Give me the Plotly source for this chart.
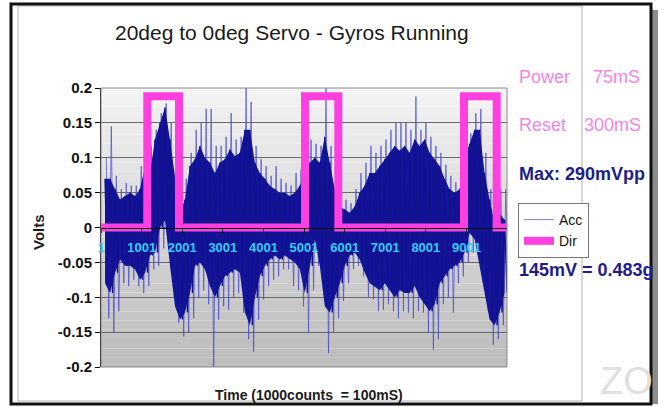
import plotly.graph_objects as go

W, H = 664, 407
L, R, T, B = 101, 157, 88, 40
PW, PH = W - L - R, H - T - B


def px(x):
    return (x - L) / PW


def py(y):
    return (H - B - y) / PH


# ---------------- data ----------------
# Acc envelope readings, one every 123 samples starting at sample 100
acc_t0 = 100
acc_dt = 123
acc_core_hi = [0.07, 0.07, 0.055, 0.04, 0.045, 0.05, 0.045, 0.055, 0.088, 0.078,
               0.126, 0.15, 0.172, 0.126, 0.07, 0.02, 0.04, 0.088, 0.098, 0.117,
               0.10, 0.093, 0.078, 0.093, 0.098, 0.112, 0.102, 0.107, 0.14, 0.14,
               0.093, 0.078, 0.07, 0.06, 0.055, 0.05, 0.05, 0.045, 0.05, 0.06,
               0.078, 0.093, 0.10, 0.093, 0.13, 0.093, 0.055, 0.03, 0.026, 0.021,
               0.03, 0.05, 0.06, 0.078, 0.078, 0.088, 0.098, 0.107, 0.117, 0.11,
               0.117, 0.107, 0.126, 0.117, 0.126, 0.107, 0.098, 0.088, 0.07, 0.055,
               0.05, 0.055, 0.10, 0.12, 0.14, 0.14, 0.078, 0.04, 0.007, 0.02, 0.011]
acc_core_lo = [-0.08, -0.094, -0.065, -0.046, -0.055, -0.055, -0.06, -0.075, -0.065, -0.04,
               -0.036, 0.0, 0.01, -0.055, -0.113, -0.132, -0.122, -0.094, -0.055, -0.05,
               -0.06, -0.084, -0.10, -0.084, -0.07, -0.065, -0.06, -0.065, -0.122, -0.14,
               -0.10, -0.07, -0.055, -0.046, -0.04, -0.046, -0.04, -0.045, -0.05, -0.06,
               -0.094, -0.055, -0.017, -0.055, -0.113, -0.122, -0.10, -0.08, -0.055, -0.04,
               -0.036, -0.046, -0.065, -0.08, -0.085, -0.09, -0.08, -0.09, -0.10, -0.09,
               -0.094, -0.094, -0.084, -0.10, -0.11, -0.12, -0.11, -0.08, -0.07, -0.06,
               -0.055, -0.05, -0.036, -0.008, -0.017, -0.055, -0.094, -0.132, -0.14, -0.122, -0.094]
acc_spike_hi = [0.10, 0.145, 0.074, 0.055, 0.064, 0.06, 0.06, 0.088, 0.10, 0.117,
                0.14, 0.164, 0.178, 0.15, 0.093, 0.045, 0.07, 0.107, 0.14, 0.15,
                0.17, 0.17, 0.117, 0.117, 0.13, 0.164, 0.126, 0.13, 0.20, 0.18,
                0.117, 0.098, 0.088, 0.074, 0.088, 0.07, 0.064, 0.06, 0.078, 0.083,
                0.10, 0.126, 0.12, 0.117, 0.20, 0.117, 0.07, 0.045, 0.04, 0.035,
                0.055, 0.078, 0.093, 0.117, 0.107, 0.117, 0.126, 0.14, 0.15, 0.15,
                0.15, 0.14, 0.188, 0.14, 0.15, 0.13, 0.117, 0.107, 0.09, 0.074,
                0.065, 0.074, 0.117, 0.135, 0.164, 0.17, 0.107, 0.055, 0.03, 0.055, 0.055]
acc_spike_lo = [-0.13, -0.15, -0.12, -0.08, -0.084, -0.075, -0.084, -0.094, -0.084, -0.06,
                -0.055, -0.03, -0.027, -0.084, -0.137, -0.156, -0.15, -0.13, -0.10, -0.09,
                -0.11, -0.20, -0.132, -0.113, -0.118, -0.10, -0.094, -0.122, -0.16, -0.178,
                -0.132, -0.103, -0.084, -0.075, -0.07, -0.06, -0.06, -0.084, -0.09, -0.113,
                -0.15, -0.09, -0.055, -0.08, -0.18, -0.15, -0.13, -0.105, -0.08, -0.06,
                -0.055, -0.07, -0.10, -0.103, -0.12, -0.118, -0.11, -0.12, -0.13, -0.12,
                -0.122, -0.13, -0.12, -0.122, -0.15, -0.175, -0.16, -0.11, -0.10, -0.122,
                -0.08, -0.07, -0.05, -0.036, -0.04, -0.08, -0.12, -0.168, -0.16, -0.14, -0.12]

# Dir square wave: sample index of each level change and the level after it
dir_t = [1, 1140, 1921, 5025, 5845, 8941, 9746, 10000]
dir_v = [0, 0.188, 0, 0.188, 0, 0.188, 0, 0]

x_tick_vals = [1, 1001, 2001, 3001, 4001, 5001, 6001, 7001, 8001, 9001]
x_tick_text = ["1", "1001", "2001", "3001", "4001", "5001", "6001", "7001", "8001", "9001"]
y_tick_vals = [-0.2, -0.15, -0.1, -0.05, 0, 0.05, 0.1, 0.15, 0.2]
y_tick_text = ["-0.2", "-0.15", "-0.1", "-0.05", "0", "0.05", "0.1", "0.15", "0.2"]

# ---------------- traces ----------------
n = len(acc_core_hi)
acc_t = [acc_t0 + i * acc_dt for i in range(n)]

core_x, core_y = [], []
spk_x, spk_y = [], []
for i in range(n):
    core_x += [acc_t[i], acc_t[i] + acc_dt / 2]
    core_y += [acc_core_hi[i], acc_core_lo[i]]
    spk_x += [acc_t[i] + acc_dt / 4, acc_t[i] + 3 * acc_dt / 4]
    spk_y += [acc_spike_hi[i], acc_spike_lo[i]]

FONT = "Liberation Sans, Arial, sans-serif"
NAVY = "#1c1c8e"
PINK = "#f285e6"

fig = go.Figure()
fig.add_trace(go.Scatter(
    x=spk_x, y=spk_y, mode="lines", name="Acc",
    line=dict(color="rgba(80,80,200,0.75)", width=1)))
fig.add_trace(go.Scatter(
    x=acc_t + acc_t[::-1], y=acc_core_hi + acc_core_lo[::-1],
    fill="toself", fillcolor="#14149a", line=dict(width=0),
    mode="lines", showlegend=False, hoverinfo="skip"))
fig.add_trace(go.Scatter(
    x=core_x, y=core_y, mode="lines", line=dict(color="#12128f", width=1.4),
    showlegend=False, hoverinfo="skip"))
fig.add_trace(go.Scatter(
    x=dir_t, y=dir_v, mode="lines", name="Dir", line_shape="hv",
    line=dict(color="#ff40e0", width=8)))

# ---------------- background / frame shapes ----------------
shapes = []
nb = 30
top_c, bot_c = (244, 244, 244), (188, 188, 188)
for k in range(nb):
    f = (k + 0.5) / nb
    c = tuple(int(bot_c[j] + (top_c[j] - bot_c[j]) * f) for j in range(3))
    shapes.append(dict(type="rect", xref="x domain", yref="y domain",
                       x0=0, x1=1, y0=k / nb, y1=(k + 1) / nb,
                       fillcolor="rgb(%d,%d,%d)" % c, line=dict(width=0), layer="below"))
shapes.append(dict(type="rect", xref="x domain", yref="y domain", x0=0, x1=1, y0=0, y1=1,
                   line=dict(color="#8a8a8a", width=1), layer="above"))
# slide frame
shapes.append(dict(type="rect", xref="paper", yref="paper",
                   x0=px(652), x1=px(658), y0=py(404), y1=py(10),
                   fillcolor="#8c8c8c", line=dict(width=0)))
shapes.append(dict(type="rect", xref="paper", yref="paper",
                   x0=px(18), x1=px(582), y0=py(401), y1=py(6),
                   line=dict(color="#b0b0b0", width=1)))

ann = []


def text(x, y, s, size, color="#1a1a1a", bold=False, anchor="left", angle=0):
    ann.append(dict(x=px(x), y=py(y), xref="paper", yref="paper", text=s, showarrow=False,
                    xanchor=anchor, yanchor="middle", textangle=angle,
                    font=dict(family=FONT, size=size, color=color,
                              weight="bold" if bold else "normal")))


text(626, 381, "ZO", 38, color="#e0e0e0", anchor="center")
text(292, 32, "20deg to 0deg Servo - Gyros Running", 21, anchor="center")
text(38, 232, "Volts", 15, bold=True, anchor="center", angle=-90)
text(309, 395, "Time (1000counts  = 100mS)", 14, bold=True, anchor="center")
text(517, 77, "Power", 18, color=PINK)
text(642, 77, "75mS", 18, color=PINK, anchor="right")
text(517, 125, "Reset", 18, color=PINK)
text(643, 125, "300mS", 18, color=PINK, anchor="right")
text(517, 174, "Max: 290mVpp", 18, color=NAVY, bold=True)
text(517, 270, "145mV = 0.483g", 18, color=NAVY, bold=True)

# outer slide border drawn last (above the watermark)
shapes.append(dict(type="rect", xref="paper", yref="paper",
                   x0=px(11), x1=px(651), y0=py(404), y1=py(4),
                   line=dict(color="#111111", width=3), layer="above"))

fig.update_layout(
    width=W, height=H, autosize=False,
    margin=dict(l=L, r=R, t=T, b=B, autoexpand=False),
    paper_bgcolor="white", plot_bgcolor="white",
    shapes=shapes, annotations=ann,
    font=dict(family=FONT, color="#1a1a1a"),
    legend=dict(x=px(518), y=py(203), xanchor="left", yanchor="top",
                bgcolor="white", bordercolor="#777777", borderwidth=1,
                font=dict(family=FONT, size=14, color="#111111"),
                itemwidth=30, tracegroupgap=0),
    xaxis=dict(range=[0, 10000], anchor="free", position=0.5,
               showline=True, linecolor="black", linewidth=1,
               ticks="outside", ticklen=4, tickcolor="black",
               tickvals=x_tick_vals, ticktext=x_tick_text, ticklabelstandoff=4,
               tickfont=dict(family=FONT, size=13, color="#33ccff", weight="bold"),
               showgrid=False, zeroline=False),
    yaxis=dict(range=[-0.2, 0.2], tickvals=y_tick_vals, ticktext=y_tick_text,
               showgrid=True, gridcolor="#6a6a6a", gridwidth=1,
               showline=True, linecolor="black", linewidth=1,
               ticks="outside", ticklen=5, tickcolor="black",
               tickfont=dict(family=FONT, size=15, color="#111111", weight="bold"),
               zeroline=False),
)

fig.write_html("out.html", config={"displayModeBar": False},
               post_script="document.body.style.margin='0px';document.body.style.overflow='hidden';")
